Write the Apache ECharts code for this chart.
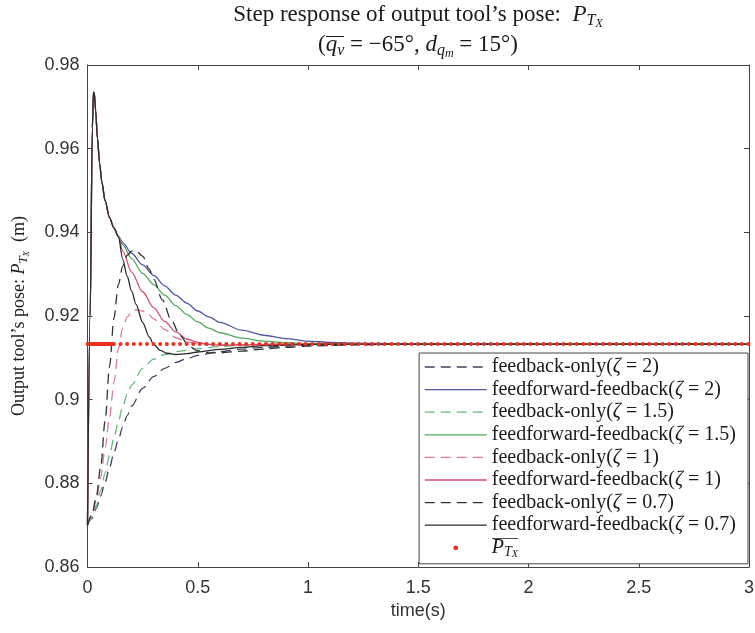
<!DOCTYPE html>
<html>
<head>
<meta charset="utf-8">
<script src="https://cdn.jsdelivr.net/npm/echarts@6/dist/echarts.min.js"></script>
<style>
  html, body { margin: 0; padding: 0; background: #fff; }
  #chart { width: 755px; height: 633px; }
</style>
</head>
<body>
<div id="chart"></div>
<script>
// ---- Step response of P_Tx (m) versus time (s) ----

// Feedforward-feedback runs share the same initial spike up to ~0.14 s
const tShared = [0, 0.012, 0.022, 0.027, 0.031, 0.037, 0.045, 0.055, 0.065, 0.08, 0.1, 0.12, 0.14];
const yShared = [0.87, 0.92, 0.965, 0.9735, 0.9733, 0.969, 0.9625, 0.9565, 0.952, 0.9475, 0.9435, 0.941, 0.939];

// feedforward-feedback tails
const tFfZ2 = [0.16, 0.2, 0.25, 0.3, 0.35, 0.4, 0.45, 0.5, 0.55, 0.6, 0.7, 0.8, 0.9, 1.0, 1.1, 1.2, 1.4, 1.6, 2, 3];
const yFfZ2 = [0.9375, 0.935, 0.9322, 0.9297, 0.9272, 0.925, 0.9231, 0.9212, 0.9198, 0.9185, 0.9166, 0.9154, 0.9146, 0.914, 0.9137, 0.9135, 0.9134, 0.9133, 0.9133, 0.9133];

const tFfZ15 = [0.16, 0.2, 0.25, 0.3, 0.35, 0.4, 0.45, 0.5, 0.55, 0.6, 0.7, 0.8, 0.9, 1.0, 1.2, 1.5, 3];
const yFfZ15 = [0.937, 0.9337, 0.9302, 0.9275, 0.925, 0.9225, 0.9204, 0.9186, 0.9171, 0.916, 0.9147, 0.914, 0.9136, 0.9134, 0.9133, 0.9133, 0.9133];

const tFfZ1 = [0.16, 0.2, 0.25, 0.3, 0.35, 0.4, 0.45, 0.5, 0.55, 0.6, 0.7, 0.8, 1.0, 1.5, 3];
const yFfZ1 = [0.9355, 0.9305, 0.9258, 0.922, 0.9187, 0.9162, 0.9145, 0.9137, 0.9132, 0.913, 0.9131, 0.9132, 0.9133, 0.9133, 0.9133];

const tFfZ07 = [0.16, 0.18, 0.2, 0.22, 0.25, 0.28, 0.3, 0.33, 0.36, 0.4, 0.45, 0.5, 0.6, 0.7, 0.8, 1.0, 1.2, 1.5, 3];
const yFfZ07 = [0.9335, 0.9295, 0.926, 0.9228, 0.9185, 0.915, 0.9132, 0.9118, 0.9111, 0.9108, 0.911, 0.9114, 0.912, 0.9125, 0.9129, 0.9132, 0.9133, 0.9133, 0.9133];

// feedback-only runs
const tFbZ2 = [0, 0.02, 0.04, 0.06, 0.08, 0.1, 0.12, 0.14, 0.16, 0.18, 0.2, 0.25, 0.3, 0.35, 0.4, 0.45, 0.5, 0.6, 0.7, 0.8, 0.9, 1.0, 1.2, 1.5, 3];
const yFbZ2 = [0.87, 0.8716, 0.874, 0.877, 0.8803, 0.8838, 0.8873, 0.8905, 0.8935, 0.8962, 0.8985, 0.9027, 0.9055, 0.9075, 0.9089, 0.9098, 0.9106, 0.9115, 0.9121, 0.9125, 0.9128, 0.913, 0.9132, 0.9133, 0.9133];

const tFbZ15 = [0, 0.02, 0.04, 0.06, 0.08, 0.1, 0.12, 0.14, 0.16, 0.18, 0.2, 0.25, 0.3, 0.35, 0.4, 0.5, 0.6, 0.7, 0.8, 1.0, 1.5, 3];
const yFbZ15 = [0.87, 0.8718, 0.8747, 0.8783, 0.8825, 0.8868, 0.891, 0.8948, 0.8985, 0.9013, 0.9035, 0.9075, 0.9097, 0.9108, 0.9115, 0.9122, 0.9127, 0.913, 0.9132, 0.9133, 0.9133, 0.9133];

const tFbZ1 = [0, 0.02, 0.04, 0.06, 0.08, 0.1, 0.12, 0.14, 0.16, 0.18, 0.2, 0.22, 0.25, 0.28, 0.3, 0.35, 0.4, 0.45, 0.5, 0.6, 0.8, 1.0, 3];
const yFbZ1 = [0.87, 0.8722, 0.876, 0.8815, 0.8885, 0.8958, 0.9042, 0.9122, 0.9172, 0.9198, 0.921, 0.9215, 0.9212, 0.9202, 0.9193, 0.9168, 0.9148, 0.9138, 0.9133, 0.9131, 0.9132, 0.9133, 0.9133];

const tFbZ07 = [0, 0.02, 0.04, 0.06, 0.08, 0.1, 0.12, 0.14, 0.16, 0.18, 0.2, 0.22, 0.25, 0.28, 0.3, 0.34, 0.38, 0.42, 0.46, 0.5, 0.55, 0.6, 0.7, 0.8, 0.9, 1.0, 1.2, 1.5, 3];
const yFbZ07 = [0.87, 0.8725, 0.8768, 0.884, 0.895, 0.908, 0.9195, 0.9275, 0.932, 0.9345, 0.9355, 0.9356, 0.9343, 0.9312, 0.9288, 0.9238, 0.919, 0.9153, 0.9128, 0.9117, 0.9112, 0.9112, 0.9116, 0.9121, 0.9125, 0.9128, 0.9131, 0.9133, 0.9133];

// desired final pose P̄_Tx, sampled densely at the start and sparsely after
const tRefHead = [0, 0.12];
const yRefHead = [0.9133, 0.9133];
const tRef = [0, 3];
const yRef = [0.9133, 0.9133];

// axis ticks
const xMin = 0, xMax = 3, xStep = 0.5;
const yMin = 0.86, yMax = 0.98, yStep = 0.02;

const SERIF = '"Liberation Serif", "Times New Roman", serif';
const SANS = '"Liberation Sans", Arial, sans-serif';
const INK = '#1a1a1a';
const AXIS = '#444';
const RED = '#e8321e';

const refName = 'PTx';
const names = {
  fb2: 'feedback-only(ζ = 2)',
  ff2: 'feedforward-feedback(ζ = 2)',
  fb15: 'feedback-only(ζ = 1.5)',
  ff15: 'feedforward-feedback(ζ = 1.5)',
  fb1: 'feedback-only(ζ = 1)',
  ff1: 'feedforward-feedback(ζ = 1)',
  fb07: 'feedback-only(ζ = 0.7)',
  ff07: 'feedforward-feedback(ζ = 0.7)'
};

function pairs(ts, ys) { return ts.map((t, i) => [t, ys[i]]); }
function ffPairs(tTail, yTail) { return pairs(tShared.concat(tTail), yShared.concat(yTail)); }

// one-pixel-wide strip with a dark row, stretched behind rich-text fragments as an overline
function overBar(h, y) {
  const c = document.createElement('canvas');
  c.width = 1; c.height = h;
  const g = c.getContext('2d');
  g.fillStyle = '#222';
  g.fillRect(0, y, 1, 1);
  return c;
}
const barTitle = overBar(30, 6);
const barLegend = overBar(22, 0);

const DASH = [10, 6];
function curve(name, data, color, dashed) {
  return {
    name: name,
    type: 'line',
    data: data,
    symbol: 'none',
    smooth: 0.3,
    smoothMonotone: 'x',
    lineStyle: { color: color, width: 1.3, type: dashed ? DASH : 'solid' },
    itemStyle: { color: color },
    emphasis: { disabled: true }
  };
}

const chart = echarts.init(document.getElementById('chart'), null, { renderer: 'canvas' });

// title: main size 23, script 16, scriptscript 12, line box 30
const titleRich = {
  n: { fontFamily: SERIF, fontSize: 23, color: INK, lineHeight: 30 },
  P: { fontFamily: SERIF, fontSize: 23, fontStyle: 'italic', color: INK, lineHeight: 30 },
  s1: { fontFamily: SERIF, fontSize: 16, fontStyle: 'italic', color: INK, lineHeight: 30, verticalAlign: 'top', padding: [12.5, 0, 0, 0] },
  s2: { fontFamily: SERIF, fontSize: 12, fontStyle: 'italic', color: INK, lineHeight: 30, verticalAlign: 'top', padding: [18, 0, 0, 0] },
  oq: { fontFamily: SERIF, fontSize: 23, fontStyle: 'italic', color: INK, lineHeight: 30, verticalAlign: 'top', padding: [3.5, 0, 3.5, 0], backgroundColor: { image: barTitle } },
  ov: { fontFamily: SERIF, fontSize: 16, fontStyle: 'italic', color: INK, lineHeight: 30, verticalAlign: 'top', padding: [12.5, 0, 1.5, 0], backgroundColor: { image: barTitle } }
};

const legendRich = {
  n: { fontFamily: SERIF, fontSize: 20, color: INK, lineHeight: 20 },
  z: { fontFamily: SERIF, fontSize: 20, fontStyle: 'italic', color: INK, lineHeight: 20 },
  P: { fontFamily: SERIF, fontSize: 20, fontStyle: 'italic', color: INK, lineHeight: 20, verticalAlign: 'top', padding: [0, 0, 2, 0], backgroundColor: { image: barLegend } },
  T: { fontFamily: SERIF, fontSize: 14, fontStyle: 'italic', color: INK, lineHeight: 20, verticalAlign: 'top', padding: [7.5, 0, 0.5, 0], backgroundColor: { image: barLegend } },
  X: { fontFamily: SERIF, fontSize: 10, fontStyle: 'italic', color: INK, lineHeight: 20, verticalAlign: 'top', padding: [12, 0, 0, 0], backgroundColor: { image: barLegend } }
};

const yNameRich = {
  n: { fontFamily: SERIF, fontSize: 18, color: INK, lineHeight: 24 },
  P: { fontFamily: SERIF, fontSize: 18, fontStyle: 'italic', color: INK, lineHeight: 24 },
  T: { fontFamily: SERIF, fontSize: 13, fontStyle: 'italic', color: INK, lineHeight: 24, verticalAlign: 'top', padding: [10, 0, 0, 0] },
  X: { fontFamily: SERIF, fontSize: 9, fontStyle: 'italic', color: INK, lineHeight: 24, verticalAlign: 'top', padding: [14.5, 0, 0, 0] }
};

function valueAxis(extra) {
  return Object.assign({
    type: 'value',
    axisLine: { show: true, onZero: false, lineStyle: { color: AXIS, width: 1 } },
    axisTick: { show: true, inside: true, length: 5, lineStyle: { color: AXIS, width: 1 } },
    splitLine: { show: false },
    axisLabel: { show: false }
  }, extra);
}

const option = {
  animation: false,
  backgroundColor: '#fff',
  title: {
    text: '{n|Step response of output tool\u2019s pose:  }{P|P}{s1|T}{s2|X}\n' +
          '{n|(}{oq|q}{ov|v}{n| = \u221265\u00b0, }{P|d}{s1|q}{s2|m}{n| = 15\u00b0)}',
    left: 418,
    top: 0,
    padding: 0,
    textAlign: 'center',
    textStyle: { fontFamily: SERIF, fontSize: 23, fontWeight: 'normal', color: INK, lineHeight: 30, rich: titleRich }
  },
  grid: { left: 87.5, right: 6, top: 65, bottom: 66, containLabel: false, outerBoundsMode: 'none' },
  xAxis: [
    valueAxis({
      position: 'bottom', min: xMin, max: xMax, interval: xStep,
      axisLabel: { show: true, margin: 12, fontFamily: SANS, fontSize: 18, color: '#333' },
      name: 'time(s)', nameLocation: 'middle', nameGap: 35,
      nameTextStyle: { fontFamily: SANS, fontSize: 18, color: '#333' }
    }),
    valueAxis({ position: 'top', min: xMin, max: xMax, interval: xStep })
  ],
  yAxis: [
    valueAxis({
      position: 'left', min: yMin, max: yMax, interval: yStep,
      axisLabel: { show: true, margin: 8, fontFamily: SANS, fontSize: 18, color: '#333',
        formatter: v => String(+v.toFixed(2)) },
      name: '{n|Output tool\u2019s pose: }{P|P}{T|T}{X|X}{n|  (m)}',
      nameLocation: 'middle', nameGap: 56, nameRotate: 90,
      nameTextStyle: { fontFamily: SERIF, fontSize: 18, color: INK, rich: yNameRich }
    }),
    valueAxis({ position: 'right', min: yMin, max: yMax, interval: yStep })
  ],
  legend: {
    orient: 'vertical',
    right: 7,
    top: 353,
    padding: [4, 12, 4, 5],
    itemWidth: 62,
    itemHeight: 6,
    itemGap: 2.6,
    selectedMode: false,
    backgroundColor: '#fff',
    borderColor: AXIS,
    borderWidth: 1,
    borderRadius: 0,
    itemStyle: { opacity: 0 },
    lineStyle: { width: 1.3 },
    textStyle: { fontFamily: SERIF, fontSize: 20, color: INK, lineHeight: 20, rich: legendRich },
    formatter: function (name) {
      if (name === refName) return '{P|P}{T|T}{X|X}';
      const k = name.indexOf('ζ');
      return '{n|' + name.slice(0, k) + '}{z|ζ}{n|' + name.slice(k + 1) + '}';
    },
    data: [
      { name: names.fb2 }, { name: names.ff2 },
      { name: names.fb15 }, { name: names.ff15 },
      { name: names.fb1 }, { name: names.ff1 },
      { name: names.fb07 }, { name: names.ff07 },
      { name: refName, itemStyle: { opacity: 1, color: RED }, lineStyle: { opacity: 0 } }
    ]
  },
  series: [
    curve(names.fb2, pairs(tFbZ2, yFbZ2), '#3e4160', true),
    curve(names.ff2, ffPairs(tFfZ2, yFfZ2), '#4f56a2', false),
    curve(names.fb15, pairs(tFbZ15, yFbZ15), '#62bb7e', true),
    curve(names.ff15, ffPairs(tFfZ15, yFfZ15), '#4dab59', false),
    curve(names.fb1, pairs(tFbZ1, yFbZ1), '#e0789a', true),
    curve(names.ff1, ffPairs(tFfZ1, yFfZ1), '#d84a79', false),
    curve(names.fb07, pairs(tFbZ07, yFbZ07), '#333333', true),
    curve(names.ff07, ffPairs(tFfZ07, yFfZ07), '#2a2a2a', false),
    {
      name: refName,
      type: 'line',
      data: pairs(tRef, yRef),
      symbol: 'none',
      lineStyle: { color: RED, width: 4, type: [0.01, 6.6], cap: 'round' },
      itemStyle: { color: RED },
      emphasis: { disabled: true },
      z: 5
    },
    {
      type: 'line',
      data: pairs(tRefHead, yRefHead),
      symbol: 'none',
      lineStyle: { color: RED, width: 4 },
      emphasis: { disabled: true },
      silent: true,
      z: 5
    }
  ]
};

chart.setOption(option);
</script>
</body>
</html>
